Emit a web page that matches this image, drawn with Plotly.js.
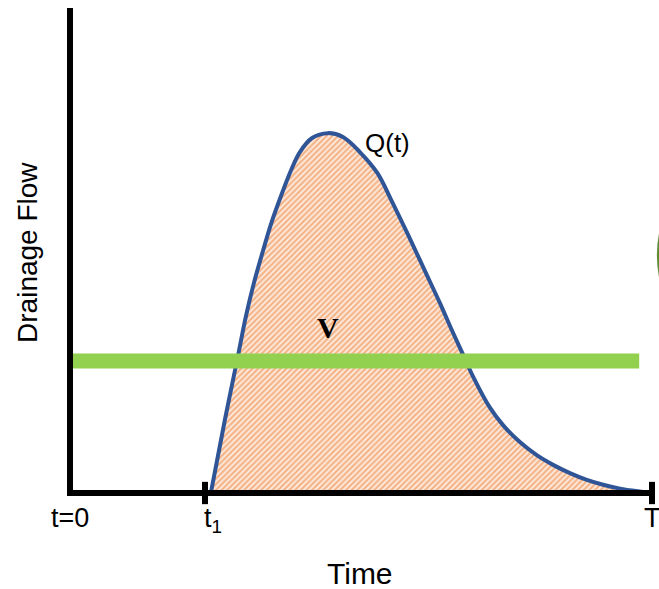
<!DOCTYPE html>
<html>
<head>
<meta charset="utf-8">
<script src="https://cdn.plot.ly/plotly-3.0.1.min.js"></script>
<style>html,body{margin:0;padding:0;background:#fff;}#chart{width:659px;height:589px;}</style>
</head>
<body>
<div id="chart"></div>
<script>
// Time (0..T, T = 10) and drainage flow Q(t)
var timeVals = [2.42, 2.66, 2.90, 3.02, 3.16, 3.32, 3.46, 3.63, 3.80, 3.95, 4.16, 4.43, 4.69, 4.98, 5.28, 5.52, 5.81, 6.09, 6.37, 6.56, 6.74, 6.93, 7.21, 7.44, 7.73, 8.02, 8.30, 8.59, 8.88, 9.16, 9.45, 9.85, 9.97];
var flowVals = [0.00, 1.50, 2.91, 3.63, 4.33, 5.01, 5.57, 6.14, 6.66, 7.03, 7.32, 7.42, 7.34, 7.03, 6.60, 6.04, 5.32, 4.60, 3.88, 3.36, 2.89, 2.39, 1.77, 1.40, 1.05, 0.78, 0.58, 0.41, 0.27, 0.17, 0.09, 0.02, 0.00];
// average level V
var levelTime = [0.05, 9.78];
var levelFlow = [2.72, 2.72];
// tick positions and labels
var tickVals = [0, 2.32, 10];
var tickText = ['t=0', 't<sub>1</sub>', 'T'];
var tMax = 10, qMax = 10;

var traces = [
  {
    x: timeVals, y: flowVals, type: 'scatter', mode: 'lines',
    line: {color: '#2f5597', width: 4, shape: 'spline', smoothing: 1.0},
    fill: 'tozeroy',
    fillcolor: '#fbd9c3',
    fillpattern: {shape: '/', fgcolor: '#f4b183', bgcolor: '#fde9dc', size: 4, solidity: 0.5},
    hoverinfo: 'skip'
  },
  {
    x: levelTime, y: levelFlow, type: 'scatter', mode: 'lines',
    line: {color: '#92d050', width: 15},
    hoverinfo: 'skip'
  }
];

var shapes = [
  // y axis
  {type: 'line', xref: 'paper', yref: 'paper', x0: 0, x1: 0, y0: -0.006, y1: 1, line: {color: '#000', width: 6}},
  // x axis
  {type: 'line', xref: 'paper', yref: 'paper', x0: -0.005, x1: 1, y0: 0, y1: 0, line: {color: '#000', width: 6}},
  // tick at t1
  {type: 'line', xref: 'paper', yref: 'paper', x0: tickVals[1] / tMax, x1: tickVals[1] / tMax, y0: -0.023, y1: 0.023, line: {color: '#000', width: 6}},
  // tick at T
  {type: 'line', xref: 'paper', yref: 'paper', x0: tickVals[2] / tMax, x1: tickVals[2] / tMax, y0: -0.023, y1: 0.023, line: {color: '#000', width: 6}},
  // partial green outline at right edge
  {type: 'circle', xref: 'paper', yref: 'paper', x0: 1.0105, x1: 1.46, y0: 0.24, y1: 0.74, line: {color: '#5a8f32', width: 2.5}}
];

var tickFont = {family: 'Liberation Sans, Arial, sans-serif', size: 27, color: '#000'};
var tickAnn = [
  {text: tickText[0], xref: 'x', yref: 'paper', x: tickVals[0], y: -0.052, xanchor: 'center', yanchor: 'middle', showarrow: false, font: tickFont},
  {text: tickText[1], xref: 'x', yref: 'paper', x: tickVals[1], xshift: -3, y: -0.056, xanchor: 'left', yanchor: 'middle', showarrow: false, font: tickFont},
  {text: tickText[2], xref: 'x', yref: 'paper', x: tickVals[2], y: -0.052, xanchor: 'center', yanchor: 'middle', showarrow: false, font: tickFont}
];

var layout = {
  width: 659, height: 589,
  margin: {l: 70, r: 7, t: 8, b: 96, pad: 0},
  paper_bgcolor: '#fff', plot_bgcolor: '#fff',
  showlegend: false,
  xaxis: {
    range: [0, tMax], showgrid: false, zeroline: false, showline: false,
    showticklabels: false, ticks: '', fixedrange: true
  },
  yaxis: {
    range: [0, qMax], showgrid: false, zeroline: false, showline: false,
    showticklabels: false, ticks: '', fixedrange: true
  },
  shapes: shapes,
  annotations: tickAnn.concat([
    {text: 'Time', xref: 'paper', yref: 'paper', x: 0.498, y: -0.165, xanchor: 'center', yanchor: 'middle', showarrow: false,
     font: {family: 'Liberation Sans, Arial, sans-serif', size: 30, color: '#000'}},
    {text: 'Drainage Flow', xref: 'paper', yref: 'paper', x: -0.0722, y: 0.497, xanchor: 'center', yanchor: 'middle', textangle: -90, showarrow: false,
     font: {family: 'Liberation Sans, Arial, sans-serif', size: 28, color: '#000'}},
    {text: '<b>V</b>', xref: 'x', yref: 'y', x: 4.43, y: 3.42, xanchor: 'center', yanchor: 'middle', showarrow: false,
     font: {family: 'Liberation Serif, Times New Roman, serif', size: 30, color: '#000'}},
    {text: 'Q(t)', xref: 'x', yref: 'y', x: 5.45, y: 7.21, xanchor: 'center', yanchor: 'middle', showarrow: false,
     font: {family: 'Liberation Sans, Arial, sans-serif', size: 26, color: '#000'}}
  ])
};

Plotly.newPlot('chart', traces, layout, {displayModeBar: false, staticPlot: true});
</script>
</body>
</html>
